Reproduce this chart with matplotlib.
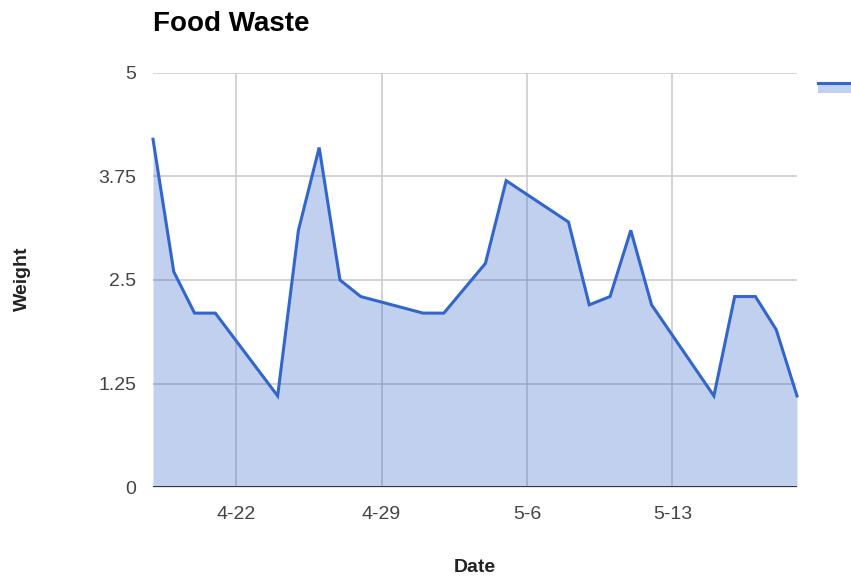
import matplotlib
matplotlib.use("Agg")
import matplotlib.pyplot as plt
from matplotlib.lines import Line2D
from matplotlib.patches import Rectangle
import datetime as dt

# Daily food waste weights
dates = ["2013-04-18", "2013-04-19", "2013-04-20", "2013-04-21", "2013-04-24",
         "2013-04-25", "2013-04-26", "2013-04-27", "2013-04-28", "2013-05-01",
         "2013-05-02", "2013-05-04", "2013-05-05", "2013-05-08", "2013-05-09",
         "2013-05-10", "2013-05-11", "2013-05-12", "2013-05-15", "2013-05-16",
         "2013-05-17", "2013-05-18", "2013-05-19"]
weights = [4.2, 2.6, 2.1, 2.1, 1.1,
           3.1, 4.1, 2.5, 2.3, 2.1,
           2.1, 2.7, 3.7, 3.2, 2.2,
           2.3, 3.1, 2.2, 1.1, 2.3,
           2.3, 1.9, 1.1]
y_ticks = [0, 1.25, 2.5, 3.75, 5]
y_tick_labels = ["0", "1.25", "2.5", "3.75", "5"]
x_tick_dates = ["2013-04-22", "2013-04-29", "2013-05-06", "2013-05-13"]
x_tick_labels = ["4-22", "4-29", "5-6", "5-13"]

plt.rcParams['font.family'] = ['Liberation Sans', 'DejaVu Sans']

x = [dt.datetime.strptime(d, "%Y-%m-%d") for d in dates]
xt = [dt.datetime.strptime(d, "%Y-%m-%d") for d in x_tick_dates]

blue = "#3366CC"
fig = plt.figure(figsize=(8.51, 5.77), dpi=100)
ax = fig.add_axes([153/851, 1-487/577, (797-153)/851, (487-73)/577])

ax.fill_between(x, weights, 0, color=blue, alpha=0.3, linewidth=0, zorder=2)
ax.plot(x, weights, color=blue, linewidth=2.2, zorder=3,
        solid_joinstyle='miter', clip_on=False)

ax.set_xlim(x[0], x[-1])
ax.set_ylim(0, 5)
ax.set_yticks(y_ticks)
ax.set_yticklabels(y_tick_labels)
ax.set_xticks(xt)
ax.set_xticklabels(x_tick_labels)

ax.grid(True, color="#cccccc", linewidth=1.2, zorder=1)
ax.set_axisbelow(True)
ax.axhline(0, color="#333333", linewidth=1.4, zorder=4)
for s in ax.spines.values():
    s.set_visible(False)
ax.tick_params(length=0, colors="#444444", labelsize=14)
ax.tick_params(axis='y', pad=12)
ax.tick_params(axis='x', pad=14)

fig.text(153/851, 1-24/577, "Food Waste", fontsize=20, fontweight='bold',
         va='center', ha='left', color='#000000')
fig.text(475/851, 1-568/577, "Date", fontsize=14, fontweight='bold',
         va='center', ha='center', color='#222222')
fig.text(22/851, 1-279/577, "Weight", fontsize=14, fontweight='bold',
         va='center', ha='center', rotation=90, color='#222222')

# Legend key (series label sits beyond the right edge)
fig.add_artist(Rectangle((818/851, 1-93/577), 40/851, 10/577,
                         transform=fig.transFigure, color=blue, alpha=0.3, lw=0))
fig.add_artist(Line2D([818/851, 860/851], [1-83/577, 1-83/577],
                      transform=fig.transFigure, color=blue, linewidth=2.2))

fig.savefig("out.png", dpi=100, facecolor='white')
